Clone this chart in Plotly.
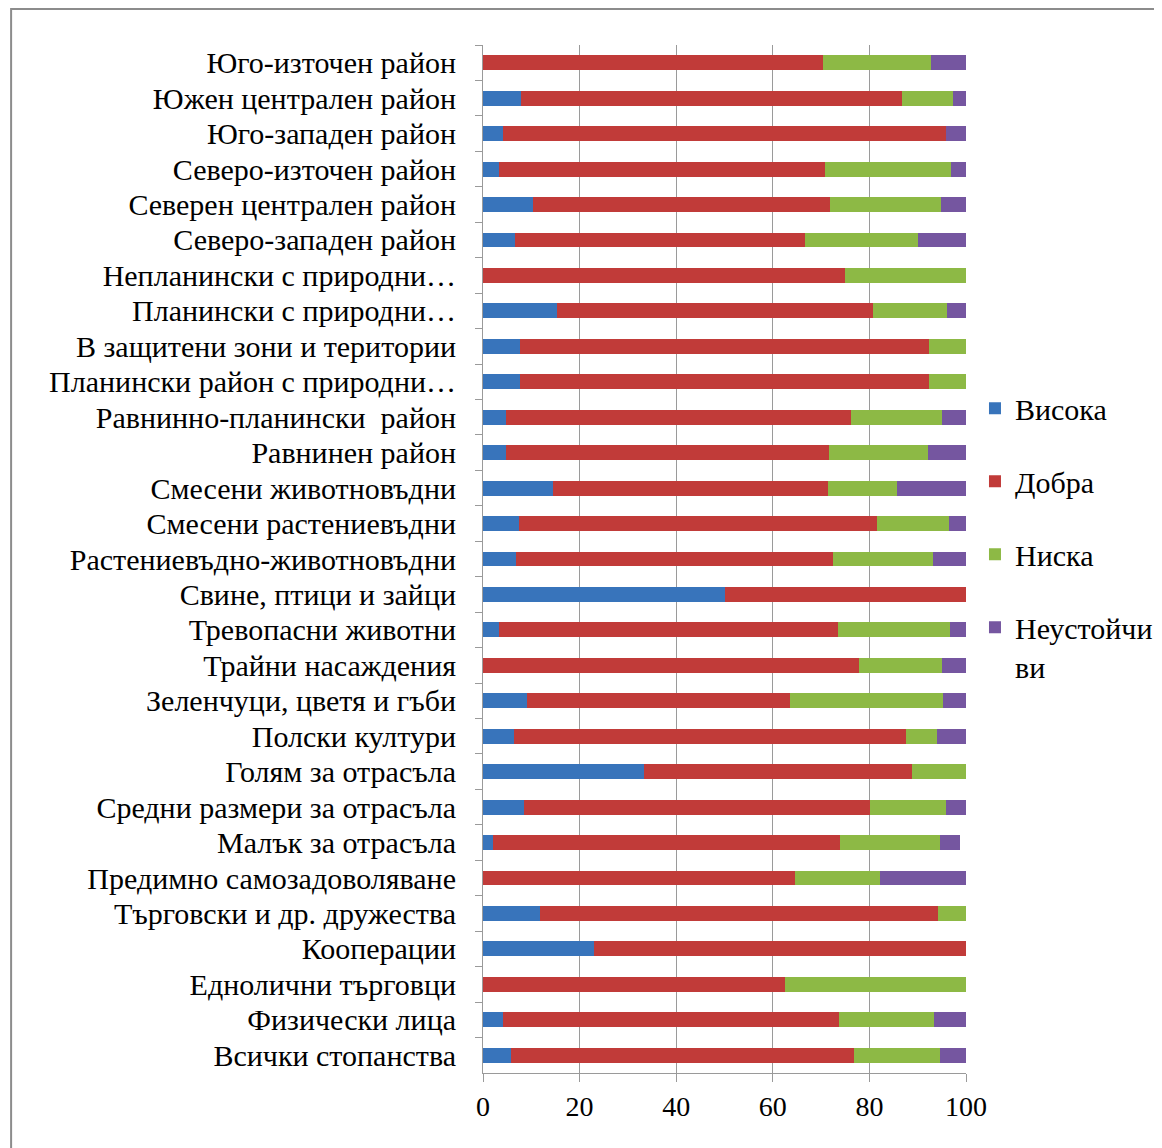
import plotly.graph_objects as go

# categories listed top to bottom as they appear in the chart
categories = [
    "Юго-източен район",
    "Южен централен район",
    "Юго-западен район",
    "Северо-източен район",
    "Северен централен район",
    "Северо-западен район",
    "Непланински с природни…",
    "Планински с природни…",
    "В защитени зони и територии",
    "Планински район с природни…",
    "Равнинно-планински  район",
    "Равнинен район",
    "Смесени животновъдни",
    "Смесени растениевъдни",
    "Растениевъдно-животновъдни",
    "Свине, птици и зайци",
    "Тревопасни животни",
    "Трайни насаждения",
    "Зеленчуци, цветя и гъби",
    "Полски култури",
    "Голям за отрасъла",
    "Средни размери за отрасъла",
    "Малък за отрасъла",
    "Предимно самозадоволяване",
    "Търговски и др. дружества",
    "Кооперации",
    "Еднолични търговци",
    "Физически лица",
    "Всички стопанства",
]

visoka = [0, 7.9, 4.1, 3.4, 10.4, 6.7, 0, 15.4, 7.6, 7.6, 4.8, 4.8, 14.5, 7.4, 6.9,
          50.0, 3.4, 0, 9.1, 6.4, 33.4, 8.4, 2.1, 0, 11.7, 23.0, 0, 4.1, 5.8]
dobra = [70.4, 78.9, 91.8, 67.5, 61.5, 59.9, 74.9, 65.3, 84.7, 84.7, 71.4, 66.9, 56.9, 74.1, 65.6,
         50.0, 70.0, 77.9, 54.5, 81.1, 55.4, 71.8, 71.8, 64.6, 82.4, 77.0, 62.6, 69.6, 71.1]
niska = [22.3, 10.6, 0, 25.9, 23.0, 23.4, 25.1, 15.4, 7.7, 7.7, 18.9, 20.4, 14.4, 14.9, 20.6,
         0, 23.2, 17.2, 31.7, 6.4, 11.2, 15.6, 20.7, 17.6, 5.9, 0, 37.4, 19.6, 17.7]
neust = [7.3, 2.6, 4.1, 3.2, 5.1, 10.0, 0, 3.9, 0, 0, 4.9, 7.9, 14.2, 3.6, 6.9,
         0, 3.4, 4.9, 4.7, 6.1, 0, 4.2, 4.2, 17.8, 0, 0, 0, 6.7, 5.4]

series = [
    ("Висока", visoka, "#3874bb"),
    ("Добра", dobra, "#c13b39"),
    ("Ниска", niska, "#8db945"),
    ("Неустойчи<br>ви", neust, "#7556a0"),
]

FONT = "Liberation Serif, Times New Roman, serif"

fig = go.Figure()
for i, (name, vals, color) in enumerate(series):
    fig.add_trace(go.Bar(
        y=categories,
        x=vals,
        name=name,
        orientation="h",
        marker=dict(color=color, line=dict(width=0)),
        legendgroup=str(i),
    ))

# outer chart border (runs off the right/bottom edge like the original)
fig.add_shape(type="rect", xref="paper", yref="paper",
              x0=-0.977, x1=1.45, y0=-0.1, y1=1.035,
              line=dict(color="#8c8c8c", width=2), layer="below")

fig.update_layout(
    barmode="stack",
    bargap=0.58,
    width=1162,
    height=1148,
    margin=dict(l=475, r=200, t=37, b=83),
    paper_bgcolor="white",
    plot_bgcolor="white",
    font=dict(family=FONT, size=30, color="black"),
    showlegend=True,
    legend=dict(
        x=1.0186, xanchor="left",
        y=0.672, yanchor="top",
        traceorder="grouped",
        tracegroupgap=31,
        valign="top",
        font=dict(family=FONT, size=30, color="black"),
    ),
    xaxis=dict(
        range=[0, 100],
        tickvals=[0, 20, 40, 60, 80, 100],
        showgrid=True,
        gridcolor="#9a9a9a",
        gridwidth=1,
        showline=True,
        linecolor="#9a9a9a",
        ticks="outside",
        ticklen=8,
        tickcolor="#9a9a9a",
        zeroline=False,
        tickfont=dict(size=28),
    ),
    yaxis=dict(
        autorange="reversed",
        tickmode="linear",
        tick0=0,
        dtick=1,
        showline=True,
        linecolor="#9a9a9a",
        ticks="outside",
        tickson="boundaries",
        ticklen=7,
        tickcolor="#9a9a9a",
        ticklabelstandoff=20,
        tickfont=dict(size=30),
    ),
)

fig.write_html("out.html")
